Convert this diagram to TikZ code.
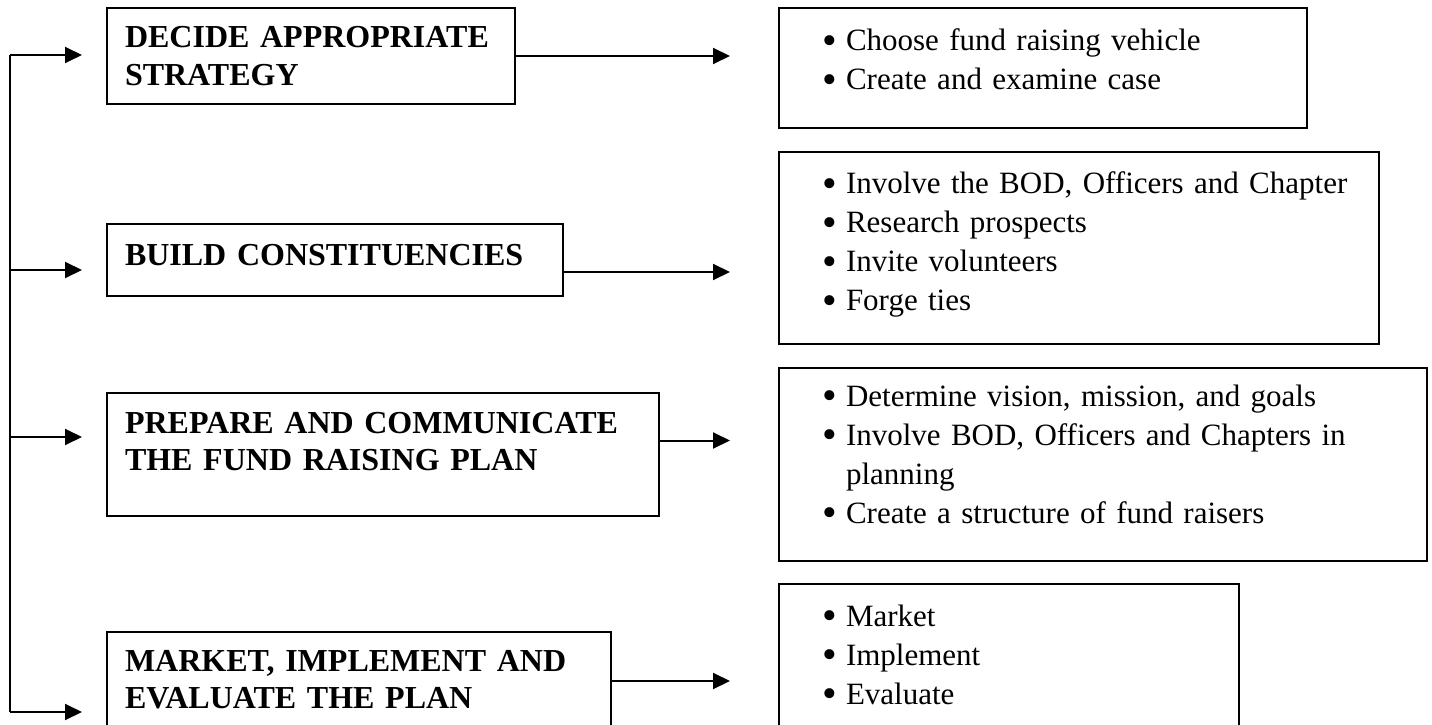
\documentclass[tikz,border=0pt]{standalone}
\usepackage{fontspec}
\setmainfont{Liberation Serif}
\usetikzlibrary{arrows.meta}

\newlength{\pxu}
\setlength{\pxu}{0.4pt}
\newcommand{\itm}{\makebox[22\pxu][l]{\hspace*{-2\pxu}\raisebox{-1.45pt}{\scalebox{1.35}{\textbullet}}}}

\begin{document}
\begin{tikzpicture}[x=1\pxu, y=-1\pxu,
  stage/.style={draw, line width=2\pxu, anchor=north west, inner xsep=18\pxu, inner ysep=0pt,
    align=left, font=\fontsize{12.8}{15.1}\selectfont\bfseries},
  tasks/.style={draw, line width=2\pxu, anchor=north west, inner xsep=20\pxu, inner ysep=0pt,
    align=left, font=\fontsize{12.4}{15.6}\selectfont,
    execute at begin node={\leftskip=25\pxu}},
  arr/.style={line width=2\pxu, -{Triangle[length=6.8pt, width=6.4pt]}}]
  \useasboundingbox (0,0) rectangle (1432,725);

  % Stages
  \node[stage, text width=372\pxu, text height=40\pxu, text depth=56\pxu] (strat) at (106,7)
    {DECIDE APPROPRIATE\\STRATEGY};
  \node[stage, text width=420\pxu, text height=42\pxu, text depth=30\pxu] (constit) at (106,223)
    {BUILD CONSTITUENCIES};
  \node[stage, text width=516\pxu, text height=40\pxu, text depth=83\pxu] (commplan) at (106,392)
    {PREPARE AND COMMUNICATE\\THE FUND RAISING PLAN};
  \node[stage, text width=468\pxu, text height=39\pxu, text depth=75\pxu] (market) at (106,631)
    {MARKET, IMPLEMENT AND\\EVALUATE THE PLAN};

  % Tasks of each stage
  \node[tasks, text width=488\pxu, text height=43\pxu, text depth=77\pxu] (stratlist) at (778,7)
    {\itm Choose fund raising vehicle\\\itm Create and examine case};
  \node[tasks, text width=560\pxu, text height=42\pxu, text depth=150\pxu] (constitlist) at (778,151)
    {\itm Involve the BOD, Officers and Chapter\\\itm Research prospects\\
     \itm Invite volunteers\\\itm Forge ties};
  \node[tasks, text width=608\pxu, text height=38\pxu, text depth=155\pxu] (commlist) at (778,367)
    {\itm Determine vision, mission, and goals\\\itm Involve BOD, Officers and Chapters in\\
     \hspace*{22\pxu}planning\\\itm Create a structure of fund raisers};
  \node[tasks, text width=420\pxu, text height=42\pxu, text depth=160\pxu] (marketlist) at (778,583)
    {\itm Market\\\itm Implement\\\itm Evaluate};

  % Feed line on the left
  \coordinate (in1) at (10,55);
  \coordinate (in2) at (10,270);
  \coordinate (in3) at (10,437);
  \coordinate (in4) at (10,712);
  \draw[line width=2\pxu] (in1) -- (in4);
  \foreach \r/\n in {1/strat, 2/constit, 3/commplan, 4/market}
    \draw[arr, shorten >=9.6pt] (in\r) -- (in\r -| \n.west);

  % Stage to tasks
  \foreach \n/\m/\s in {strat/stratlist/0, constit/constitlist/-12, commplan/commlist/14, market/marketlist/8}
    \draw[arr, shorten >=19.2pt] ([yshift=\s\pxu]\n.east) -- ([yshift=\s\pxu]\n.east -| \m.west);
\end{tikzpicture}
\end{document}
